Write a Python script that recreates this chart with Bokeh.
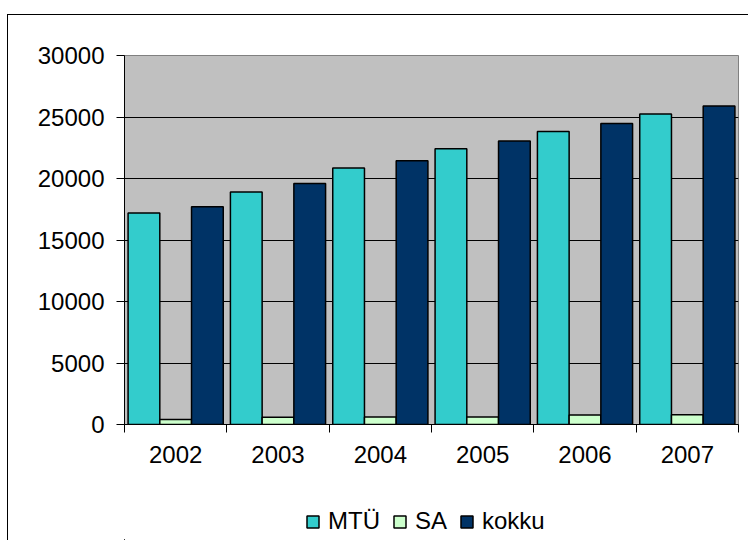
from bokeh.plotting import figure
from bokeh.layouts import column
from bokeh.models import (ColumnDataSource, Range1d, FixedTicker, Legend,
                          LegendItem)
from bokeh.transform import dodge
from bokeh.embed import file_html
from bokeh.resources import INLINE

years = ["2002", "2003", "2004", "2005", "2006", "2007"]
mtu = [17200, 18900, 20850, 22420, 23820, 25240]
sa = [400, 590, 600, 610, 780, 800]
kokku = [17700, 19600, 21450, 23040, 24480, 25890]
y_ticks = [0, 5000, 10000, 15000, 20000, 25000, 30000]
series_names = ["MTÜ", "SA", "kokku"]
series_colors = ["#33CCCC", "#CCFFCC", "#003366"]

FONT = "Liberation Sans"
FS = "24px"

n = len(years)
pos = list(range(n))  # category slot index
source = ColumnDataSource(data=dict(x=pos, year=years, mtu=mtu, sa=sa,
                                    kokku=kokku))

p = figure(width=740, height=465, x_range=Range1d(-0.5, n - 0.5),
           y_range=Range1d(0, 30000),
           output_backend="svg", toolbar_location=None,
           min_border_left=116, min_border_right=10,
           min_border_top=40, min_border_bottom=56)

p.background_fill_color = "#C0C0C0"
p.border_fill_color = "white"
p.outline_line_color = "#808080"
p.outline_line_width = 1

# y axis
p.yaxis.ticker = FixedTicker(ticks=y_ticks)
p.yaxis.major_label_text_font = FONT
p.yaxis.major_label_text_font_size = FS
p.yaxis.major_label_text_color = "black"
p.yaxis.axis_line_color = "black"
p.yaxis.major_tick_out = 8
p.yaxis.major_tick_in = 0
p.yaxis.minor_tick_line_color = None
p.yaxis.major_label_standoff = 12
p.ygrid.ticker = FixedTicker(ticks=y_ticks)
p.ygrid.grid_line_color = "black"
p.ygrid.grid_line_width = 1
p.xgrid.grid_line_color = None

# x axis: labels at slot centres, tick marks on slot boundaries
xaxis = p.xaxis[0]
xaxis.ticker = FixedTicker(ticks=pos, minor_ticks=[i - 0.5 for i in range(n + 1)])
xaxis.major_label_overrides = {i: years[i] for i in pos}
xaxis.major_tick_out = 0
xaxis.major_tick_in = 0
xaxis.minor_tick_out = 8
xaxis.minor_tick_in = 0
xaxis.minor_tick_line_color = "black"
xaxis.axis_line_color = "black"
xaxis.major_label_text_font = FONT
xaxis.major_label_text_font_size = FS
xaxis.major_label_text_color = "black"
xaxis.major_label_standoff = 13

bw = 0.31
cols = ["mtu", "sa", "kokku"]
offsets = [-bw, 0.0, bw]
for col, off, color in zip(cols, offsets, series_colors):
    p.vbar(x=dodge("x", off), top=col, width=bw,
           source=source, fill_color=color, line_color="black",
           line_width=1.5)

# legend strip below the chart (its renderers lie outside its visible range)
p2 = figure(width=740, height=60, x_range=Range1d(100, 101),
            y_range=Range1d(100000, 100001),
            x_axis_type=None, y_axis_type=None,
            output_backend="svg", toolbar_location=None,
            min_border=0)
p2.outline_line_color = None
p2.background_fill_color = "white"
p2.border_fill_color = "white"
p2.xgrid.grid_line_color = None
p2.ygrid.grid_line_color = None
swatches = [p2.vbar(x=dodge("x", off), top=col, width=bw, source=source,
                    fill_color=c, line_color="black", line_width=1.5)
            for col, off, c in zip(cols, offsets, series_colors)]

legend = Legend(items=[LegendItem(label=nm, renderers=[r])
                       for nm, r in zip(series_names, swatches)],
                orientation="horizontal", location=(181, 5))
legend.label_text_font = FONT
legend.label_text_font_size = FS
legend.label_text_color = "black"
legend.glyph_width = 15
legend.glyph_height = 15
legend.label_standoff = 8
legend.spacing = 12
legend.padding = 0
legend.margin = 0
legend.border_line_color = None
legend.background_fill_alpha = 0
p2.add_layout(legend)

layout = column(p, p2, spacing=0)
layout.styles = {"margin-top": "14px", "margin-left": "7px",
                 "border-top": "1px solid black",
                 "border-left": "1px solid black"}

open("out.html", "w").write(file_html(layout, INLINE))
